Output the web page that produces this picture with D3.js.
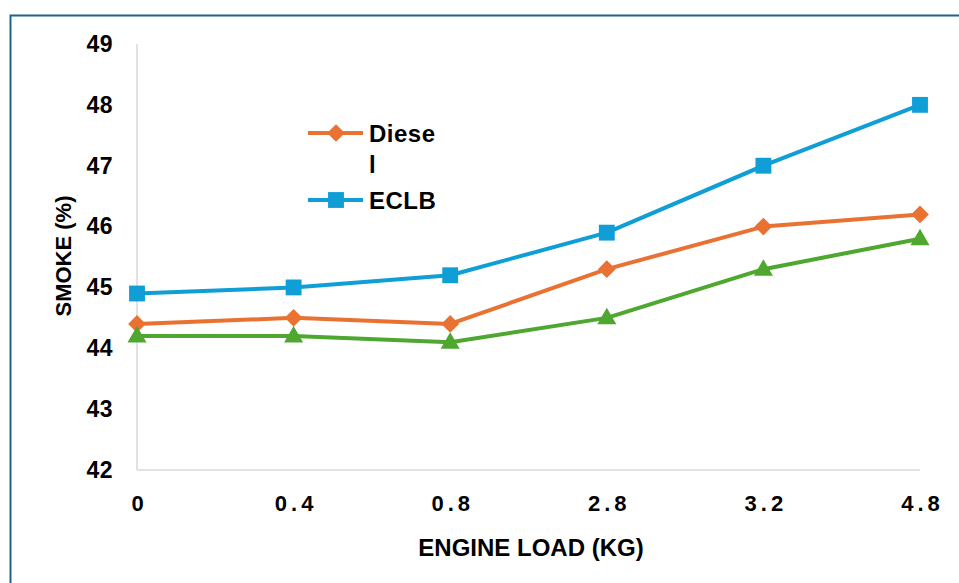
<!DOCTYPE html>
<html>
<head>
<meta charset="utf-8">
<script src="https://cdn.jsdelivr.net/npm/d3@7"></script>
<style>
  html, body { margin: 0; padding: 0; background: #ffffff; }
  svg { display: block; font-family: "Liberation Sans", Arial, sans-serif; }
</style>
</head>
<body>
<svg id="chart" width="959" height="583"></svg>
<script>
// Engine load categories (x axis) and smoke readings (%)
const loads = ["0", "0.4", "0.8", "2.8", "3.2", "4.8"];
const diesel = [44.4, 44.5, 44.4, 45.3, 46.0, 46.2];
const eclb = [44.9, 45.0, 45.2, 45.9, 47.0, 48.0];
const thirdBlend = [44.2, 44.2, 44.1, 44.5, 45.3, 45.8];
const yTicks = [42, 43, 44, 45, 46, 47, 48, 49];

const seriesList = [
  { name: "Diesel", values: diesel, color: "#E97132", shape: "diamond" },
  { name: "ECLB", values: eclb, color: "#0F9ED5", shape: "square" },
  { name: "Blend", values: thirdBlend, color: "#4EA72E", shape: "triangle" }
];

const svg = d3.select("#chart");

// outer frame
svg.append("rect")
  .attr("x", 10.5).attr("y", 15.5)
  .attr("width", 960).attr("height", 600)
  .attr("fill", "none")
  .attr("stroke", "#1d6688")
  .attr("stroke-width", 2);

const x = d3.scalePoint().domain(loads).range([137, 920]);
const y = d3.scaleLinear().domain([42, 49]).range([470, 44]);

// axis lines
svg.append("line")
  .attr("x1", 137).attr("x2", 137)
  .attr("y1", y(49)).attr("y2", y(42))
  .attr("stroke", "#d9d9d9").attr("stroke-width", 1.5);
svg.append("line")
  .attr("x1", 137).attr("x2", 920)
  .attr("y1", y(42)).attr("y2", y(42))
  .attr("stroke", "#d9d9d9").attr("stroke-width", 1.5);

// y tick labels
const yAxis = d3.axisLeft(y).tickValues(yTicks).tickSize(0).tickPadding(24)
  .tickFormat(d3.format("d"));
const gy = svg.append("g").attr("transform", "translate(137,0)").call(yAxis);
gy.select(".domain").remove();
gy.selectAll("text")
  .attr("font-size", 23).attr("font-weight", "bold").attr("fill", "#000")
  .attr("letter-spacing", "0.5px")
  .attr("font-family", "Liberation Sans, Arial, sans-serif");

// x tick labels
const xAxis = d3.axisBottom(x).tickSize(0).tickPadding(25);
const gx = svg.append("g").attr("transform", `translate(0,${y(42)})`).call(xAxis);
gx.select(".domain").remove();
gx.selectAll("text")
  .attr("font-size", 22).attr("font-weight", "bold").attr("fill", "#000")
  .attr("letter-spacing", "4px").attr("dx", 2)
  .attr("font-family", "Liberation Sans, Arial, sans-serif");

// axis titles
svg.append("text")
  .attr("x", 531).attr("y", 556)
  .attr("text-anchor", "middle")
  .attr("font-size", 24).attr("font-weight", "bold")
  .text("ENGINE LOAD (KG)");
svg.append("text")
  .attr("transform", "translate(71,256) rotate(-90)")
  .attr("text-anchor", "middle")
  .attr("font-size", 22).attr("font-weight", "bold")
  .text("SMOKE (%)");

const symbolFor = {
  diamond: d3.symbol().type(d3.symbolDiamond2).size(200),
  square: d3.symbol().type(d3.symbolSquare2).size(320),
  triangle: d3.symbol().type(d3.symbolTriangle2).size(260)
};

const line = d3.line().x((d, i) => x(loads[i])).y(d => y(d));

seriesList.forEach(s => {
  const g = svg.append("g");
  g.append("path")
    .attr("d", line(s.values))
    .attr("fill", "none")
    .attr("stroke", s.color)
    .attr("stroke-width", 4)
    .attr("stroke-linejoin", "round");
  g.selectAll("path.mark")
    .data(s.values)
    .join("path")
    .attr("class", "mark")
    .attr("transform", (d, i) => `translate(${x(loads[i])},${y(d)})` + (s.shape === "triangle" ? " translate(0,1)" : ""))
    .attr("d", symbolFor[s.shape])
    .attr("fill", s.color);
});

// legend
const legend = svg.append("g");
const legendItems = [
  { s: seriesList[0], y: 133, lines: ["Diese", "l"] },
  { s: seriesList[1], y: 200, lines: ["ECLB"] }
];
legendItems.forEach(item => {
  legend.append("line")
    .attr("x1", 308).attr("x2", 363)
    .attr("y1", item.y).attr("y2", item.y)
    .attr("stroke", item.s.color).attr("stroke-width", 4);
  legend.append("path")
    .attr("transform", `translate(336,${item.y})`)
    .attr("d", symbolFor[item.s.shape])
    .attr("fill", item.s.color);
  item.lines.forEach((t, k) => {
    legend.append("text")
      .attr("x", 369).attr("y", item.y + 9 + k * 31)
      .attr("font-size", 24).attr("font-weight", "bold")
      .attr("letter-spacing", "0.5px")
      .attr("fill", "#000")
      .text(t);
  });
});
</script>
</body>
</html>
